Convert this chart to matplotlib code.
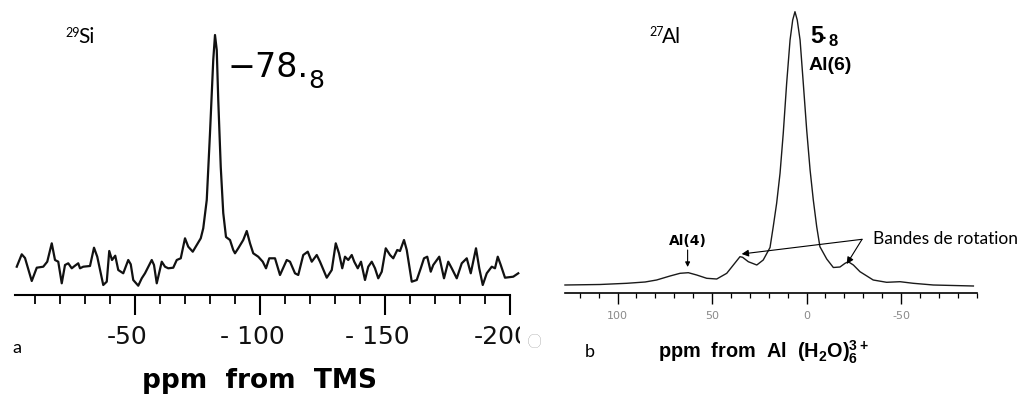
import matplotlib
matplotlib.use('Agg')
import matplotlib.pyplot as plt
from matplotlib.transforms import Bbox, TransformedBbox
import numpy as np

plt.rcParams.update({
    'font.family': 'DejaVu Sans',
    'mathtext.fontset': 'custom',
    'mathtext.rm': 'Liberation Sans',
    'mathtext.bf': 'Liberation Sans:bold',
    'mathtext.default': 'bf',
})

W, H = 1021, 394

# 29Si spectrum (ppm from TMS, intensity a.u.)
si_ppm = [-2.7, -4.7, -6.0, -8.7, -10.7, -13.3, -14.9, -16.7, -18.0, -19.3,
          -20.7, -22.0, -23.3, -24.7, -26.0, -27.3, -28.0, -29.3, -32.0, -33.6,
          -34.9, -37.3, -38.7, -39.7, -40.8, -42.1, -43.3, -45.3, -47.3, -48.3,
          -49.3, -51.3, -52.7, -54.0, -56.7, -57.6, -58.7, -60.7, -62.0, -63.3,
          -65.3, -66.7, -68.3, -70.0, -71.3, -73.1, -74.7, -76.3, -77.3, -78.7,
          -80.0, -81.3, -82.0, -82.7, -83.3, -84.3, -85.3, -86.4, -88.0, -89.3,
          -90.0, -91.3, -93.3, -94.7, -96.0, -97.3, -99.3, -101.1, -102.4, -103.7,
          -106.0, -108.0, -110.7, -112.0, -114.0, -115.3, -117.3, -119.1, -120.7, -122.7,
          -124.0, -126.7, -128.7, -130.3, -131.6, -132.9, -134.0, -135.3, -136.7, -137.7,
          -139.1, -140.4, -142.0, -143.3, -144.7, -146.0, -147.3, -148.7, -150.3, -152.0,
          -153.3, -154.9, -156.0, -157.6, -158.7, -160.7, -162.7, -164.3, -165.6, -166.9,
          -168.3, -169.3, -171.7, -173.6, -175.3, -176.7, -178.7, -180.7, -182.7, -184.3,
          -186.4, -187.7, -189.1, -190.7, -192.7, -194.0, -195.1, -196.3, -198.0, -201.3,
          -203.3]
si_int = [28.3, 40.7, 37, 14, 27.3, 28.3, 33.3, 51.7, 35, 33.3,
          11.7, 30, 31.7, 26.7, 29.3, 31.7, 26.7, 28.3, 29, 47.3,
          38.3, 10, 13.3, 44, 35, 39.3, 25, 21.7, 35, 30.7,
          15, 9.3, 16.7, 21.7, 35, 30, 11.7, 33.3, 28.3, 26.7,
          27.3, 35, 36.7, 56.7, 48.3, 43.3, 50, 56.7, 66.7, 95,
          162, 235, 260, 245, 195, 128, 82, 58, 55, 45,
          41.7, 46.7, 55, 64, 51.7, 41.7, 38.3, 33.3, 26.7, 36.7,
          36.7, 20, 35, 33.3, 21.7, 20, 40, 43.3, 33.3, 40,
          33.3, 17.3, 25, 51.7, 41.7, 26.7, 38.3, 35, 40, 33.3,
          26.7, 33.3, 15, 28.3, 33.3, 26.7, 16.7, 23.3, 46.7, 40,
          36.7, 45, 44, 55, 45, 13.3, 15, 26.7, 36.7, 38.3,
          23.3, 30, 38.3, 16.7, 33.3, 26.7, 16.7, 31.7, 36.7, 21.7,
          46.7, 26.7, 10, 21.7, 28.3, 26.7, 38.3, 30, 17.3, 18.3,
          21.7]

# 27Al spectrum (ppm from Al(H2O)6 3+, intensity a.u.)
al_ppm = [127.8, 109.3, 95.1, 85.4, 79.3, 72.2, 66.9, 62.5, 58.1, 52.8,
          47.5, 42.2, 38.7, 35.2, 33.8, 30.8, 26.3, 22.9, 19.3, 17.6,
          15.8, 14.0, 12.3, 10.5, 8.7, 7.3, 6.1, 4.9, 3.4, 1.7,
          -0.1, -1.9, -3.6, -5.4, -7.1, -10.7, -14.2, -17.7, -20.4, -22.1,
          -24.8, -28.3, -35.3, -42.4, -49.5, -56.5, -67.1, -88.3]
al_int = [8, 8.5, 9.7, 11, 13, 17, 19.7, 20.3, 18, 14.7,
          14, 19.7, 28, 36.3, 35.7, 31.3, 28, 33, 45.5, 66.3,
          89.7, 119.7, 159.7, 209.7, 253, 273, 281.3, 273, 253, 209.7,
          163, 123, 93, 66.3, 46.3, 34, 25.5, 26, 29.7, 31.3,
          28, 21.3, 13, 10.7, 11.3, 9.7, 8, 7]

si_major = [-50, -100, -150, -200]
si_labels = ['-50', '- 100', '- 150', '-200']
al_major = [100, 50, 0, -50]
al_labels = ['100', '50', '0', '-50']

al4_ppm, al4_int = 62.9, 26
sideband_ppm = [34.3, -21.3]
sideband_int = [39, 29]


def fx(x):
    return x / W


def fy(y):
    return 1 - y / H


fig = plt.figure(figsize=(W / 100, H / 100), dpi=100)

# ---------- panel a : 29Si ----------
ax1 = fig.add_axes([fx(15), fy(295), (520 - 15) / W, 275 / H])
ax1.plot(si_ppm, si_int, color='#111111', lw=1.6, clip_on=False)
ax1.set_xlim(-2, -204)
ax1.set_ylim(0, 275)
for s in ['top', 'right', 'left']:
    ax1.spines[s].set_visible(False)
ax1.spines['bottom'].set_bounds(-2, -200)
ax1.spines['bottom'].set_linewidth(1.5)
ax1.set_yticks([])
ax1.set_xticks(si_major)
ax1.set_xticks([v for v in range(-10, -200, -10) if v % 50], minor=True)
ax1.tick_params(axis='x', which='major', length=14.4, width=1.5, labelbottom=False)
ax1.tick_params(axis='x', which='minor', length=6.5, width=1.3)

# tick labels of panel a, the last one is cut by the panel edge
clip = TransformedBbox(Bbox.from_extents(0, 0, 520 / W, 1), fig.transFigure)
for v, lab in zip(si_major, si_labels):
    xpix = 10 - v * 2.5
    t = fig.text(fx(xpix - 8), fy(337), lab, ha='center', va='center',
                 fontsize=18, color='#111111')
    t.set_clip_box(clip)
    t.set_clip_on(True)

fig.text(fx(260), fy(388), 'ppm  from  TMS', ha='center', va='baseline',
         fontsize=19, fontweight='bold')
fig.text(fx(227), fy(77), '\u221278.', ha='left', va='baseline', fontsize=24)
fig.text(fx(308), fy(88), '8', ha='left', va='baseline', fontsize=18)
fig.text(fx(65), fy(37), '29', ha='left', va='baseline', fontsize=9, family='Lato')
fig.text(fx(78), fy(43), 'Si', ha='left', va='baseline', fontsize=15, family='Lato')
fig.text(fx(12), fy(353), 'a', ha='left', va='baseline', fontsize=13, family='Lato')

# ---------- panel b : 27Al ----------
ax2 = fig.add_axes([fx(560), fy(293), 420 / W, 288 / H])
ax2.plot(al_ppm, al_int, color='#1a1a1a', lw=1.0)
ax2.set_xlim((806.5 - 560) / 1.89, (806.5 - 980) / 1.89)
ax2.set_ylim(0, 288)
for s in ['top', 'right', 'left']:
    ax2.spines[s].set_visible(False)
ax2.spines['bottom'].set_bounds(127.8, -90)
ax2.spines['bottom'].set_linewidth(1.2)
ax2.set_yticks([])
ax2.set_xticks(al_major)
ax2.set_xticklabels(al_labels)
ax2.set_xticks([v for v in range(120, -100, -10) if v % 50], minor=True)
ax2.tick_params(axis='x', which='major', length=8, width=1.0, pad=5,
                labelsize=8, labelcolor='#8a8a8a')
ax2.tick_params(axis='x', which='minor', length=3.5, width=0.9)

ax2.annotate('', xy=(al4_ppm, al4_int), xytext=(al4_ppm, 43),
             arrowprops=dict(arrowstyle='-|>', color='k', lw=0.8,
                             mutation_scale=7, shrinkA=0, shrinkB=0))
for p, i in zip(sideband_ppm, sideband_int):
    ax2.annotate('', xy=(p, i), xytext=(-29.4, 53.7),
                 arrowprops=dict(arrowstyle='-|>', color='k', lw=0.8,
                                 mutation_scale=10, shrinkA=0, shrinkB=0))

fig.text(fx(688), fy(241), 'Al(4)', ha='center', va='center', fontsize=10,
         fontweight='bold')
fig.text(fx(873), fy(239), 'Bandes de rotation', ha='left', va='center',
         fontsize=12.5, family='Lato')
fig.text(fx(810), fy(43), '5', ha='left', va='baseline', fontsize=17,
         family='Liberation Sans', fontweight='bold')
fig.text(fx(822), fy(43), '\u00b7', ha='left', va='baseline', fontsize=12,
         family='Liberation Sans', fontweight='bold')
fig.text(fx(828), fy(46), '8', ha='left', va='baseline', fontsize=12,
         family='Liberation Sans', fontweight='bold')
fig.text(fx(809), fy(70), 'Al(6)', ha='left', va='baseline', fontsize=14,
         family='Liberation Sans', fontweight='bold')
fig.text(fx(649), fy(36), '27', ha='left', va='baseline', fontsize=9, family='Lato')
fig.text(fx(662), fy(43), 'Al', ha='left', va='baseline', fontsize=15, family='Lato')
fig.text(fx(585), fy(357), 'b', ha='left', va='baseline', fontsize=13, family='Lato')
fig.text(fx(527), fy(348), 'O', ha='left', va='baseline', fontsize=14,
         family='Lato', fontweight='light', color='#555555')
fig.text(fx(658), fy(358), r'ppm  from  Al  (H$_2$O)$_6^{3+}$', ha='left',
         va='baseline', fontsize=14.3, family='Liberation Sans', fontweight='bold')

fig.savefig('out.png', dpi=100)
